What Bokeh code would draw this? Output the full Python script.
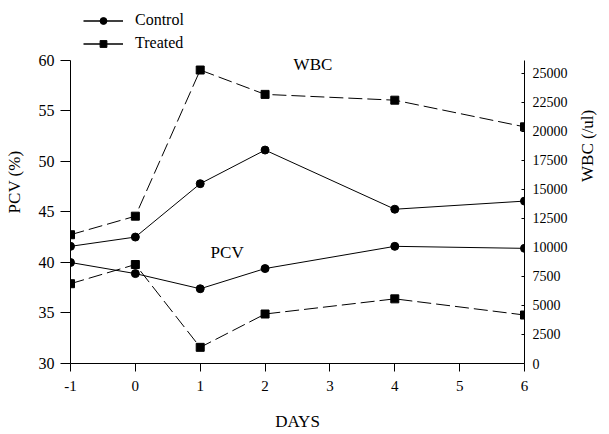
import math
from bokeh.plotting import figure
from bokeh.models import Range1d, LinearAxis, FixedTicker, Legend, LegendItem, Label
from bokeh.embed import file_html
from bokeh.resources import INLINE

days = [-1, 0, 1, 2, 4, 6]
pcv_control = [40.0, 38.9, 37.4, 39.4, 41.6, 41.4]
pcv_treated = [37.9, 39.8, 31.6, 34.9, 36.4, 34.8]
wbc_control = [10100, 10900, 15500, 18400, 13300, 14000]
wbc_treated = [11100, 12700, 25300, 23200, 22700, 20400]
x_ticks = [-1, 0, 1, 2, 3, 4, 5, 6]
x_tick_labels = {-1: "-1"}
pcv_ticks = [30, 35, 40, 45, 50, 55, 60]
wbc_ticks = [0, 2500, 5000, 7500, 10000, 12500, 15000, 17500, 20000, 22500, 25000]

FONT = "Liberation Serif"

# frame spans full top; axis lines limited with bounds
p = figure(width=609, height=434, output_backend="svg", toolbar_location=None,
           x_range=Range1d(-1, 6), y_range=Range1d(30, 65.94),
           min_border_left=70, min_border_right=85, min_border_top=0, min_border_bottom=71)
p.extra_y_ranges = {"wbc": Range1d(0, 31293)}
p.outline_line_color = None
p.xgrid.visible = False
p.ygrid.visible = False
p.background_fill_color = "white"
p.border_fill_color = "white"

def style_axis(ax, size="15px"):
    ax.axis_line_color = "black"
    ax.major_tick_line_color = "black"
    ax.minor_tick_line_color = None
    ax.major_label_text_font = FONT
    ax.major_label_text_font_size = size
    ax.major_label_text_color = "black"
    ax.axis_label_text_font = FONT
    ax.axis_label_text_font_size = "17px"
    ax.axis_label_text_font_style = "normal"
    ax.axis_label_text_color = "black"

xa = p.xaxis[0]
xa.ticker = FixedTicker(ticks=x_ticks)
xa.major_label_overrides = x_tick_labels
xa.axis_label = "DAYS"
style_axis(xa)
xa.major_tick_out = 8
xa.major_tick_in = 0
xa.major_label_standoff = 9
xa.axis_label_standoff = 18

ya = p.yaxis[0]
ya.ticker = FixedTicker(ticks=pcv_ticks)
ya.bounds = (30, 60)
ya.axis_label = "PCV (%)"
style_axis(ya, "16px")
ya.major_tick_out = 10
ya.major_tick_in = 0
ya.major_label_standoff = 6
ya.axis_label_standoff = 12

ra = LinearAxis(y_range_name="wbc", ticker=FixedTicker(ticks=wbc_ticks), axis_label="WBC (/ul)")
ra.bounds = (0, 26120)
style_axis(ra, "14px")
ra.major_tick_out = 0
ra.major_tick_in = 3
ra.major_label_standoff = 8
ra.axis_label_standoff = 17
ra.axis_label_orientation = math.pi / 2
ra.axis_label_text_baseline = "top"
p.add_layout(ra, "right")

DASH = "14 5"
# PCV
p.line(days, pcv_control, line_color="black", line_width=1)
p.scatter(days, pcv_control, marker="circle", size=8, color="black")
p.line(days, pcv_treated, line_color="black", line_width=1, line_dash=DASH)
p.scatter(days, pcv_treated, marker="square", size=8, color="black")
# WBC
p.line(days, wbc_control, line_color="black", line_width=1, y_range_name="wbc")
p.scatter(days, wbc_control, marker="circle", size=8, color="black", y_range_name="wbc")
p.line(days, wbc_treated, line_color="black", line_width=1, line_dash=DASH, y_range_name="wbc")
p.scatter(days, wbc_treated, marker="square", size=8, color="black", y_range_name="wbc")

# hidden renderers used only for the legend glyphs (solid line + marker)
lg_line = p.line(days, pcv_control, line_color="black", line_width=1.5, visible=False)
lg_circ = p.scatter(days, pcv_control, marker="circle", size=7, color="black", visible=False)
lg_sq = p.scatter(days, pcv_treated, marker="square", size=7, color="black", visible=False)

legend = Legend(items=[LegendItem(label="Control", renderers=[lg_line, lg_circ]),
                       LegendItem(label="Treated", renderers=[lg_line, lg_sq])],
                location=(13, 311), orientation="vertical",
                background_fill_alpha=0, border_line_color=None,
                inactive_fill_alpha=0, click_policy="none",
                padding=0, margin=0, spacing=5, glyph_width=40, glyph_height=17,
                label_height=17, label_standoff=12,
                label_text_font=FONT, label_text_font_size="16px", label_text_color="black")
p.add_layout(legend, "center")

p.add_layout(Label(x=2.44, y=59.65, text="WBC", text_font=FONT, text_font_size="17px",
                   text_baseline="middle", text_align="left", text_color="black"))
p.add_layout(Label(x=1.16, y=41.0, text="PCV", text_font=FONT, text_font_size="17px",
                   text_baseline="middle", text_align="left", text_color="black"))

open("out.html", "w").write(file_html(p, INLINE))
